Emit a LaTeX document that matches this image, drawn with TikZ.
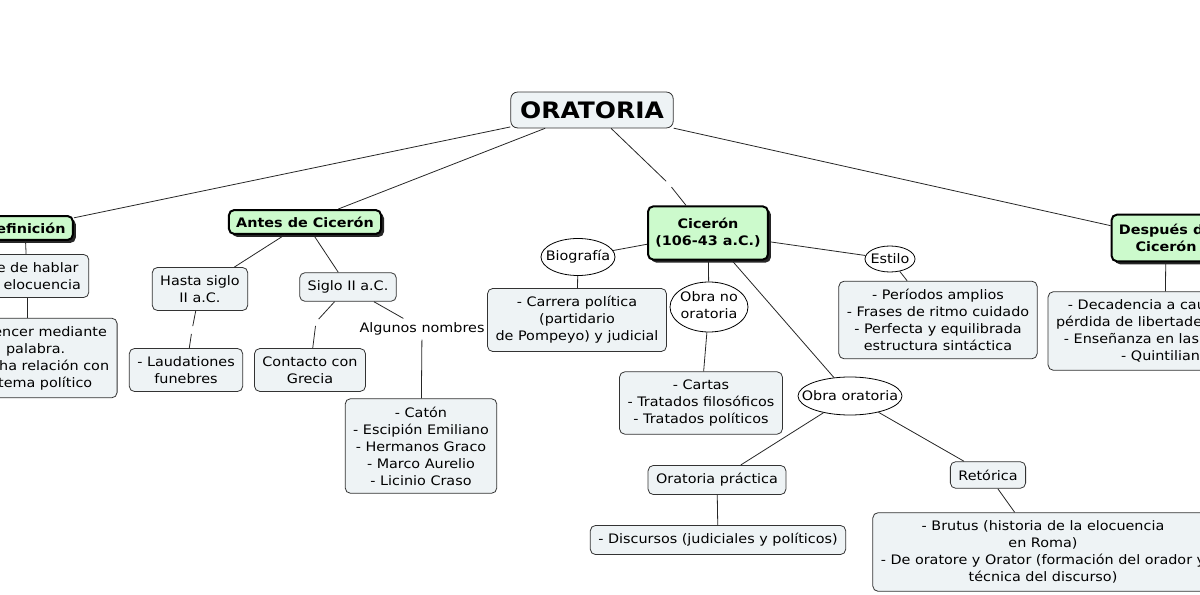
\documentclass[tikz,border=0pt]{standalone}
\usepackage{fontspec}
\setmainfont{DejaVu Sans}[FakeStretch=1.1]
\usetikzlibrary{shapes.geometric, shadows}

\definecolor{Mint}{RGB}{204,250,204}
\definecolor{Paper}{RGB}{238,243,245}
\newcommand{\nfont}{\fontsize{9.8}{12.75}\selectfont}
\newcommand{\zw}[1]{\makebox[0pt]{#1}}

\begin{document}
\begin{tikzpicture}[
  x=0.75pt, y=-0.75pt,
  concept/.style={rectangle, draw=black!80, fill=Paper, rounded corners=4pt, line width=0.6pt, inner xsep=6pt, inner ysep=6pt, align=center, font=\nfont},
  main/.style={concept, draw=black, fill=Mint, line width=1.5pt, font=\nfont\bfseries, inner xsep=5.5pt, inner ysep=5pt, drop shadow={shadow xshift=2.2pt, shadow yshift=-2.2pt, fill=black!85, opacity=1}},
  topic/.style={concept, font=\fontsize{17}{20}\selectfont\bfseries, inner sep=7pt, rounded corners=5pt},
  oval/.style={ellipse, draw=black, fill=white, line width=0.6pt, inner sep=0pt, font=\nfont},
  phrase/.style={inner sep=3pt, font=\nfont},
  link/.style={line width=0.6pt, draw=black!85},
  tolink/.style={link, shorten >=3pt},
  fromlink/.style={link, shorten <=3pt}
]
\useasboundingbox (0,0) rectangle (1200,595);
\clip (0,0) rectangle (1200,595);

% Root
\node[topic] (ora) at (592,110) {ORATORIA};

% Definicion
\node[main] (def) at (25,228) {Definición};
\node[concept] (arte) at (27,276) {Arte de hablar\\con elocuencia};
\node[concept] (conv) at (27,358) {- Convencer mediante\\la palabra.\\- Estrecha relación con\\el sistema político};

% Antes de Ciceron
\node[main] (antes) at (305,222) {Antes de Cicerón};
\node[concept] (hasta) at (200,289) {Hasta siglo\\II a.C.};
\node[concept] (siglo) at (348,287) {Siglo II a.C.};
\node[concept] (laud) at (186,370) {- Laudationes\\funebres};
\node[concept] (contacto) at (310,370) {Contacto con\\Grecia};
\node[phrase] (algunos) at (422,329) {Algunos nombres};
\node[concept] (caton) at (421,446) {- Catón\\- Escipión Emiliano\\- Hermanos Graco\\- Marco Aurelio\\- Licinio Craso};
\coordinate (l2) at (192,330);
\coordinate (l3) at (316,322);

% Ciceron
\coordinate (l1) at (669,184);
\node[main, minimum height=40pt] (cic) at (708,233) {Cicerón\\(106-43 a.C.)};
\node[oval, minimum width=55.5pt, minimum height=27.75pt] (bio) at (578,257) {\zw{Biografía}};
\node[concept] (carrera) at (577,320) {- Carrera política\\(partidario\\de Pompeyo) y judicial};
\node[oval, minimum width=58.5pt, minimum height=37.5pt] (obrano) at (709,307) {\zw{\begin{tabular}{@{}c@{}}Obra no\\oratoria\end{tabular}}};
\node[concept] (cartas) at (701,403) {- Cartas\\- Tratados filosóficos\\- Tratados políticos};
\node[oval, minimum width=78pt, minimum height=28.5pt] (obraor) at (850,396) {\zw{Obra oratoria}};
\node[concept] (practica) at (717,480) {Oratoria práctica};
\node[concept] (discursos) at (718,540) {- Discursos (judiciales y políticos)};
\node[concept] (retorica) at (988,475) {Retórica};
\node[concept] (brutus) at (1043,552) {- Brutus (historia de la elocuencia\\en Roma)\\- De oratore y Orator (formación del orador y\\técnica del discurso)};
\node[oval, minimum width=37.5pt, minimum height=19.5pt] (estilo) at (890,259) {\zw{Estilo}};
\node[concept] (estbox) at (938,320) {- Períodos amplios\\- Frases de ritmo cuidado\\- Perfecta y equilibrada\\estructura sintáctica};

% Despues de Ciceron
\node[main, minimum height=35pt] (despues) at (1166,238) {Después de\\Cicerón};
\node[concept] (despbox) at (1165,331) {- Decadencia a causa de la\\pérdida de libertades políticas\\- Enseñanza en las escuelas\\- Quintiliano};

% Links
\draw[link] (ora) -- (def);
\draw[link] (ora) -- (antes);
\draw[link] (ora) -- (despues);
\draw[tolink] (ora) -- (l1);
\draw[fromlink] (l1) -- (cic);

\draw[link] (def) -- (arte);
\draw[link] (arte) -- (conv);

\draw[link] (antes) -- (hasta);
\draw[link] (antes) -- (siglo);
\draw[tolink] (hasta) -- (l2);
\draw[fromlink] (l2) -- (laud);
\draw[tolink] (siglo) -- (l3);
\draw[fromlink] (l3) -- (contacto);
\draw[link] (siglo) -- (algunos);
\draw[link] (algunos) -- (caton);

\draw[link] (cic) -- (bio);
\draw[link] (bio) -- (carrera);
\draw[link] (cic) -- (obrano);
\draw[link] (obrano) -- (cartas);
\draw[link] (cic) -- (obraor);
\draw[link] (obraor) -- (practica);
\draw[link] (obraor) -- (retorica);
\draw[link] (practica) -- (discursos);
\draw[link] (retorica) -- (brutus);
\draw[link] (cic) -- (estilo);
\draw[link] (estilo) -- (estbox);

\draw[link] (despues) -- (despbox);

\end{tikzpicture}
\end{document}
